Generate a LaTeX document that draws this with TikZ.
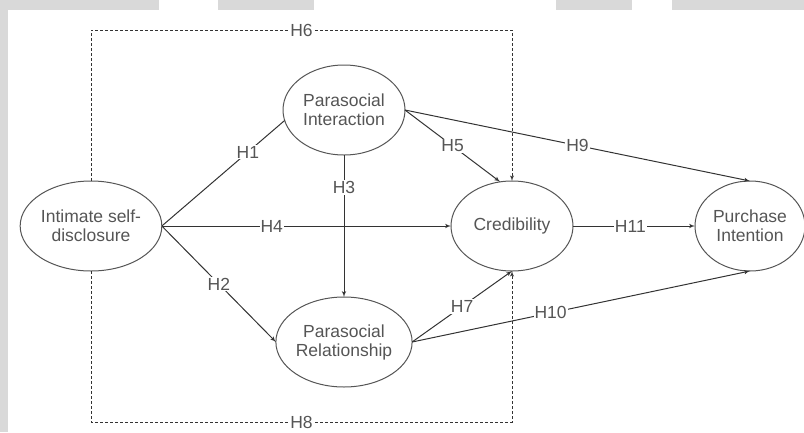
\documentclass[tikz,border=0pt]{standalone}
\usepackage{fontspec}
\setmainfont{Liberation Sans}
\usepackage{tikz}
\usetikzlibrary{shapes,arrows,calc}
\usepackage{color}
\definecolor{stripgray}{HTML}{D9D9D9}
\definecolor{txtgray}{HTML}{555555}
\definecolor{linegray}{HTML}{333333}

\begin{document}
\begin{tikzpicture}[x=1pt, y=-1pt, outer sep=0pt, >=latex',
  font=\fontsize{17.5}{19}\selectfont, text=txtgray,
  construct/.style={ellipse, draw=txtgray, line width=1pt, minimum width=122pt,
    minimum height=90pt, align=center, inner sep=0pt},
  hyp/.style={fill=white, inner sep=1pt},
  link/.style={->, draw=linegray, line width=1pt},
  bridge/.style={->, draw=linegray, line width=0.9pt, dash pattern=on 3pt off 2pt}]

\useasboundingbox (0,0) rectangle (804,432);
\fill[stripgray] (0,0) rectangle (8,432);
\fill[stripgray] (0,0) rectangle (159,10);
\fill[stripgray] (218,0) rectangle (314,10);
\fill[stripgray] (556,0) rectangle (632,10);
\fill[stripgray] (672,0) rectangle (804,10);

\node[construct] at (91, 226) (INTIMATE) {Intimate self-\\disclosure};
\node[construct] at (344, 110) (PS_INTERACTION) {Parasocial\\Interaction};
\node[construct] at (344, 342) (PS_RELATIONSHIP) {Parasocial\\Relationship};
\node[construct] at (512, 226) (CREDIBILITY) {Credibility};
\node[construct, minimum width=110pt] at (750, 226) (PURCHASE) {Purchase\\Intention};

    \draw [-, draw=linegray, line width=1pt] (INTIMATE.east) to node[hyp, pos=0.7] {H1}
    (PS_INTERACTION.190);
    \draw [link] (INTIMATE.east) to node[hyp] {H2} (PS_RELATIONSHIP.west);
    \draw [link] (PS_INTERACTION.south) to node[hyp, pos=0.23] {H3}
    (PS_RELATIONSHIP.north);
    \draw [link] (INTIMATE.east) to node[hyp, pos=0.38] {H4} (CREDIBILITY.west);
    \draw [link] (PS_INTERACTION.east) to node[hyp] {H5} (CREDIBILITY.105);
    \draw [bridge] (INTIMATE.north) -- ++(0,-151) -| node[hyp, pos=0.25] {H6}
    (CREDIBILITY.north);
    \draw [link] (PS_RELATIONSHIP.east) to node[hyp] {H7} (CREDIBILITY.south);
    \draw [bridge] (INTIMATE.south) -- ++(0,151) -| node[hyp, pos=0.25] {H8}
    (CREDIBILITY.south);
    \draw [link] (PS_INTERACTION.east) to node[hyp] {H9} (PURCHASE.north);
    \draw [link] (PS_RELATIONSHIP.east) to node[hyp, pos=0.41] {H10} (PURCHASE.south);
    \draw [link] (CREDIBILITY.east) to node[hyp, pos=0.47] {H11} (PURCHASE.west);
\end{tikzpicture}
\end{document}
